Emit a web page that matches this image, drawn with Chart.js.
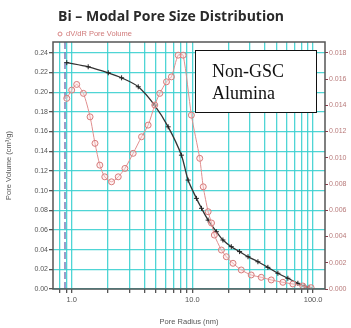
<!DOCTYPE html>
<html lang="en">
<head>
<meta charset="UTF-8">
<title>Bi - Modal Pore Size Distribution</title>
<script src="https://cdn.jsdelivr.net/npm/chart.js"></script>
<style>
  body { margin: 0; background: #fff; }
</style>
</head>
<body>
<canvas id="chart" width="351" height="328"></canvas>
<script>
// cumulative pore volume (left axis, cm3/g)
var cumRadius = [0.91, 1.37, 2.01, 2.59, 3.56, 4.85, 6.3, 8.11, 9.21, 10.8, 11.9, 13.5, 15.8, 17.9, 21.0, 24.6, 28.9, 34.9, 42.2, 51.1, 61.8, 74.8, 84.3, 92.7];
var cumVolume = [0.230, 0.2258, 0.2197, 0.2146, 0.2055, 0.1869, 0.1648, 0.136, 0.1107, 0.0921, 0.082, 0.070, 0.0582, 0.0498, 0.043, 0.038, 0.0328, 0.0277, 0.022, 0.016, 0.0109, 0.0058, 0.003, 0.0017];

// dV/dR pore volume (right axis)
var dvRadius = [0.91, 1.0, 1.1, 1.25, 1.42, 1.56, 1.71, 1.88, 2.14, 2.43, 2.76, 3.23, 3.79, 4.3, 4.88, 5.37, 6.1, 6.7, 7.62, 8.38, 9.81, 11.5, 12.3, 13.5, 14.4, 15.2, 17.4, 19.1, 21.7, 25.4, 30.7, 37.2, 45.0, 56.2, 68.0, 82.2, 96.2];
var dvValue = [0.01453, 0.01516, 0.01559, 0.01491, 0.01312, 0.0111, 0.00944, 0.00855, 0.00817, 0.00855, 0.00919, 0.01034, 0.0116, 0.01249, 0.01402, 0.01491, 0.01579, 0.01617, 0.01782, 0.01782, 0.01325, 0.00996, 0.00779, 0.00589, 0.00503, 0.00411, 0.00297, 0.00246, 0.00196, 0.00145, 0.00107, 0.00089, 0.00069, 0.00051, 0.00038, 0.00023, 0.0001];

var markerRadius = 0.88;

var xTicks = [0.8, 0.9, 1, 2, 3, 4, 5, 6, 7, 8, 9, 10, 20, 30, 40, 50, 60, 70, 80, 90, 100];
var xLabels = { 1: "1.0", 10: "10.0", 100: "100.0" };
var leftTicks = [0, 0.02, 0.04, 0.06, 0.08, 0.10, 0.12, 0.14, 0.16, 0.18, 0.20, 0.22, 0.24];
var rightTicks = [0, 0.002, 0.004, 0.006, 0.008, 0.010, 0.012, 0.014, 0.016, 0.018];

function pairs(xs, ys) {
  var out = [];
  for (var i = 0; i < xs.length; i++) out.push({ x: xs[i], y: ys[i] });
  return out;
}

// frame, title, legend and the text box
var extras = {
  id: "extras",
  afterDatasetsDraw: function (chart) {
    var c = chart.ctx, a = chart.chartArea;
    c.save();
    c.strokeStyle = "#555";
    c.lineWidth = 1.5;
    c.strokeRect(a.left, a.top, a.right - a.left, a.bottom - a.top);

    // label box
    c.fillStyle = "#fff";
    c.fillRect(195, 50, 121, 62);
    c.strokeStyle = "#111";
    c.lineWidth = 1;
    c.strokeRect(195.5, 50.5, 121, 62);
    c.fillStyle = "#111";
    c.font = "18px 'Liberation Serif'";
    c.textBaseline = "middle";
    c.fillText("Non-GSC", 212, 72);
    c.fillText("Alumina", 212, 94);
    c.restore();
  },
  afterDraw: function (chart) {
    var c = chart.ctx;
    c.save();
    c.fillStyle = "#2a2a2a";
    c.font = "bold 14px 'Open Sans'";
    c.textBaseline = "middle";
    c.fillText("Bi \u2013 Modal Pore Size Distribution", 58, 17);

    c.strokeStyle = "#d98585";
    c.lineWidth = 1;
    c.beginPath();
    c.arc(60, 34, 2, 0, Math.PI * 2);
    c.stroke();
    c.fillStyle = "#d07a7a";
    c.font = "7.5px 'Liberation Sans'";
    c.fillText("dV/dR Pore Volume", 66, 34);
    c.restore();
  }
};

new Chart(document.getElementById("chart"), {
  type: "line",
  data: {
    datasets: [{
      label: "dV/dR Pore Volume",
      data: pairs(dvRadius, dvValue),
      yAxisID: "y2",
      borderColor: "#e08e8e",
      borderWidth: 1,
      pointStyle: "circle",
      pointRadius: 3,
      pointBorderColor: "#d67c7c",
      pointBackgroundColor: "rgba(255,220,220,0.4)",
      pointBorderWidth: 1,
      tension: 0.25
    }, {
      label: "Cumulative Pore Volume",
      data: pairs(cumRadius, cumVolume),
      yAxisID: "y",
      borderColor: "#333",
      borderWidth: 1.3,
      pointStyle: "cross",
      pointRadius: 2.5,
      pointBorderColor: "#222",
      pointBorderWidth: 1,
      tension: 0.3
    }, {
      label: "marker",
      data: [{ x: markerRadius, y: 0 }, { x: markerRadius, y: 0.251 }],
      yAxisID: "y",
      borderColor: "#7c7cb8",
      borderWidth: 1.5,
      borderDash: [7, 3],
      pointRadius: 0
    }]
  },
  options: {
    responsive: false,
    animation: false,
    layout: { padding: { top: 42 } },
    plugins: {
      legend: { display: false },
      title: { display: false },
      tooltip: { enabled: false }
    },
    scales: {
      x: {
        type: "logarithmic",
        min: 0.724,
        max: 125.5,
        afterBuildTicks: function (s) { s.ticks = xTicks.map(function (v) { return { value: v }; }); },
        afterFit: function (s) { s.height = 39; },
        grid: { color: "rgba(60,208,208,0.9)", lineWidth: 1.3, tickLength: 4, tickColor: "#555" },
        border: { display: false },
        ticks: {
          autoSkip: false,
          maxRotation: 0,
          padding: 2,
          color: "#555",
          font: { family: "Liberation Sans", size: 7.5 },
          callback: function (v) { return xLabels[v] || ""; }
        },
        title: {
          display: true,
          text: "Pore Radius (nm)",
          color: "#555",
          font: { family: "Liberation Sans", size: 7.5 },
          padding: { top: 0, bottom: 2 }
        }
      },
      y: {
        position: "left",
        min: 0,
        max: 0.251,
        afterBuildTicks: function (s) { s.ticks = leftTicks.map(function (v) { return { value: v }; }); },
        afterFit: function (s) { s.width = 53; },
        grid: { color: "rgba(60,208,208,0.9)", lineWidth: 1.3, tickLength: 4, tickColor: "#555" },
        border: { display: false },
        ticks: {
          padding: 1,
          color: "#555",
          font: { family: "Liberation Sans", size: 7 },
          callback: function (v) { return v.toFixed(2); }
        },
        title: {
          display: true,
          text: "Pore Volume (cm\u00b3/g)",
          color: "#555",
          font: { family: "Liberation Sans", size: 7.5 },
          padding: { top: 4, bottom: 0 }
        }
      },
      y2: {
        position: "right",
        min: 0,
        max: 0.018825,
        afterBuildTicks: function (s) { s.ticks = rightTicks.map(function (v) { return { value: v }; }); },
        afterFit: function (s) { s.width = 26; },
        grid: { drawOnChartArea: false, tickLength: 3, tickColor: "#8a3a4a" },
        border: { display: false },
        ticks: {
          padding: 1,
          color: "#b87a7a",
          font: { family: "Liberation Sans", size: 7 },
          callback: function (v) { return v.toFixed(3); }
        }
      }
    }
  },
  plugins: [extras]
});
</script>
</body>
</html>
